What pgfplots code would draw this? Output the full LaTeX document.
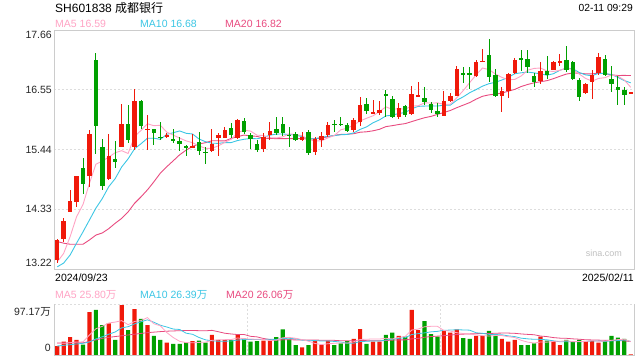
\documentclass[border=0pt]{standalone}
\usepackage{pgfplots}
\usepackage{pgfplotstable}
\pgfplotsset{compat=1.18}
\usepackage{fontspec}
\setmainfont{Liberation Sans}
\newfontfamily\cjk{Noto Sans CJK SC}
\definecolor{cred}{HTML}{F0190A}
\definecolor{cgreen}{HTML}{00A000}
\definecolor{cma5}{HTML}{FFA3C4}
\definecolor{cma10}{HTML}{3CC6E4}
\definecolor{cma20}{HTML}{E84A7F}
\definecolor{cframe}{HTML}{CCCCCC}
\definecolor{cgrid}{HTML}{DDDDDD}
\newcommand\fs{\fontsize{10.5}{12}\selectfont}
\pgfplotsset{candle/.style 2 args={draw=none, mark=none, mark size=0pt, mark options={draw=none,fill=none}, forget plot,
  error bars/.cd, y dir=both, y explicit, error mark=none,
  error bar style={draw=#1, line width=#2}}}

\pgfplotstableread{
i o h l c v
0 13.38 13.78 13.33 13.76 17.3
1 13.78 14.16 13.73 14.11 25.7
2 14.28 14.69 14.27 14.48 34.6
3 14.47 14.95 14.38 14.94 28.9
5 14.95 15.81 14.75 15.73 82.7
8 14.89 15.72 14.88 15.32 60.9
10 15.49 16.29 15.48 15.92 96.2
12 15.48 16.56 15.43 16.35 88.5
14 15.81 16.08 15.43 15.82 57.7
17 15.67 15.75 15.66 15.71 23.7
21 15.48 15.73 15.46 15.49 26.9
24 15.41 15.82 15.40 15.54 38.5
25 15.66 15.74 15.31 15.71 28.9
26 15.66 15.85 15.65 15.81 28.9
28 15.65 16.01 15.64 15.99 38.5
32 15.45 15.74 15.40 15.68 27.6
33 15.71 15.95 15.62 15.79 27.6
38 15.61 15.77 15.59 15.68 14.8
40 15.40 15.68 15.34 15.64 27.6
41 15.62 15.77 15.48 15.69 19.2
42 15.71 15.96 15.68 15.90 27.6
46 15.81 16.02 15.77 15.99 30.8
47 15.96 16.41 15.87 16.27 50.0
49 16.12 16.36 16.10 16.13 25.7
50 16.12 16.35 16.08 16.18 25.7
53 16.04 16.31 16.01 16.21 36.6
55 16.10 16.62 16.08 16.48 86.6
56 16.43 16.70 16.42 16.44 48.1
60 16.07 16.52 16.06 16.35 46.2
61 16.35 16.49 16.33 16.44 42.9
62 16.44 17.00 16.43 16.94 49.4
65 16.80 17.11 16.79 17.07 36.6
66 17.07 17.31 17.06 17.08 36.6
69 16.43 16.60 16.13 16.53 30.8
70 16.52 16.87 16.40 16.85 25.7
71 16.86 17.14 16.84 17.11 28.9
75 16.72 17.06 16.66 16.89 35.3
77 16.92 17.09 16.91 17.07 26.9
78 17.06 17.22 17.00 17.07 19.2
82 16.49 16.67 16.48 16.66 26.9
83 16.69 16.91 16.38 16.82 27.6
84 16.86 17.23 16.83 17.16 23.7
89 16.49 16.50 16.48 16.49 1.0
}\redtab

\pgfplotstableread{
i o h l c v
4 15.10 15.28 14.61 14.80 19.9
6 17.11 17.23 15.36 15.88 86.6
7 15.48 15.64 14.69 14.77 57.7
9 15.27 15.60 15.09 15.20 28.9
11 15.92 16.26 15.56 15.62 48.1
13 16.35 16.36 15.83 15.88 69.3
15 15.82 15.83 15.52 15.74 36.6
16 15.67 15.96 15.62 15.66 28.9
18 15.64 15.82 15.56 15.61 21.2
19 15.60 15.68 15.42 15.54 21.2
20 15.49 15.53 15.32 15.48 24.4
22 15.58 15.76 15.33 15.42 27.6
23 15.39 15.49 15.17 15.38 23.7
27 15.84 15.93 15.65 15.71 28.9
29 15.97 16.02 15.72 15.77 31.4
30 15.71 15.74 15.45 15.63 25.7
31 15.54 15.62 15.39 15.43 26.9
34 15.82 16.05 15.71 15.74 34.6
35 15.91 16.04 15.70 15.74 49.4
36 15.71 15.85 15.49 15.70 30.2
37 15.73 15.76 15.60 15.62 19.2
39 15.77 15.81 15.34 15.37 19.2
43 15.92 15.99 15.77 15.90 19.2
44 15.92 16.05 15.88 15.90 22.4
45 15.89 15.93 15.76 15.79 26.9
48 16.29 16.40 16.10 16.15 21.2
51 16.48 16.55 16.05 16.43 38.5
52 16.38 16.43 16.02 16.04 42.9
54 16.24 16.27 16.05 16.08 35.3
57 16.40 16.60 16.27 16.33 65.4
58 16.29 16.33 16.12 16.18 40.4
59 16.16 16.30 16.05 16.10 35.3
63 16.85 16.97 16.67 16.84 32.7
64 16.85 16.97 16.56 16.84 30.8
67 17.20 17.49 16.70 16.79 46.2
68 16.83 16.94 16.41 16.43 36.6
72 17.13 17.29 16.89 17.11 19.2
73 17.13 17.28 16.86 16.97 19.2
74 16.80 16.86 16.61 16.69 22.4
76 16.89 17.17 16.75 16.83 27.6
79 17.11 17.37 16.88 16.91 28.9
80 17.07 17.08 16.74 16.75 25.7
81 16.74 16.77 16.35 16.41 28.9
85 17.13 17.20 16.80 16.82 26.9
86 16.75 17.00 16.51 16.66 36.6
87 16.61 16.80 16.26 16.55 33.4
88 16.55 16.60 16.26 16.46 30.8
}\greentab

\pgfplotstableread{
i ma5 ma10 ma20 v5 v10 v20
0 13.35 13.26 13.73 22.5 17.3 23.0
1 13.51 13.33 13.70 22.5 18.6 23.0
2 13.82 13.48 13.68 23.7 19.9 23.5
3 14.19 13.70 13.68 25.0 21.2 23.5
4 14.418 13.91 13.68 25.28 22.5 23.5
5 14.812 14.13 13.76 38.36 25.0 26.0
6 15.166 14.35 13.85 50.54 31.0 29.0
7 15.224 14.53 13.89 55.16 35.0 32.0
8 15.300 14.75 13.97 61.56 40.0 34.0
9 15.380 14.899 14.07 63.36 44.32 35.5
10 15.418 15.115 14.16 66.06 52.21 37.0
11 15.366 15.266 14.28 58.36 54.45 38.5
12 15.682 15.453 14.44 64.52 59.84 40.0
13 15.794 15.547 14.56 66.20 63.88 41.5
14 15.918 15.649 14.69 71.96 67.66 43.0
15 15.882 15.650 14.84 60.04 63.05 44.0
16 15.890 15.628 15.00 56.20 57.28 45.0
17 15.762 15.722 15.12 43.24 53.88 45.8
18 15.708 15.751 15.23 33.62 49.91 46.3
19 15.652 15.785 15.342 26.32 49.14 46.73
20 15.600 15.741 15.428 23.88 41.96 47.09
21 15.566 15.728 15.497 23.48 39.84 47.15
22 15.508 15.635 15.544 24.26 33.75 46.80
23 15.462 15.585 15.566 24.76 29.19 46.54
24 15.462 15.557 15.603 28.22 27.27 47.47
25 15.508 15.554 15.602 29.12 26.50 44.78
26 15.572 15.569 15.599 29.52 26.50 41.89
27 15.630 15.569 15.646 29.78 27.02 40.45
28 15.752 15.607 15.679 32.74 28.75 39.33
29 15.798 15.630 15.708 31.32 29.77 39.46
30 15.782 15.645 15.693 30.68 29.90 35.93
31 15.706 15.639 15.684 30.28 29.90 34.87
32 15.700 15.665 15.650 30.02 29.90 31.83
33 15.660 15.706 15.646 27.84 30.29 29.74
34 15.654 15.726 15.642 28.48 29.90 28.59
35 15.676 15.729 15.642 33.22 31.95 29.23
36 15.730 15.718 15.644 33.88 32.08 29.29
37 15.718 15.709 15.639 32.20 31.11 29.07
38 15.696 15.678 15.643 29.64 28.74 28.75
39 15.622 15.638 15.634 26.56 27.52 28.65
40 15.602 15.639 15.642 22.20 27.71 28.81
41 15.600 15.665 15.652 20.00 26.94 28.42
42 15.656 15.687 15.676 21.68 26.94 28.42
43 15.700 15.698 15.702 22.56 26.10 28.20
44 15.806 15.714 15.720 23.20 24.88 27.39
45 15.836 15.719 15.724 23.06 22.63 27.29
46 15.896 15.748 15.733 25.38 22.69 27.39
47 15.970 15.813 15.761 29.86 25.77 28.44
48 16.020 15.860 15.769 30.26 26.41 27.58
49 16.066 15.936 15.787 30.92 27.06 27.29
50 16.144 15.990 15.815 30.68 26.87 27.29
51 16.232 16.064 15.865 32.22 28.80 27.87
52 16.186 16.078 15.883 30.80 30.33 28.64
53 16.198 16.109 15.904 33.88 32.07 29.09
54 16.188 16.127 15.921 35.80 33.36 29.12
55 16.248 16.196 15.958 47.98 39.33 30.98
56 16.250 16.241 15.995 49.90 41.06 31.88
57 16.308 16.247 16.030 54.40 42.60 34.19
58 16.302 16.250 16.055 55.16 44.52 35.47
59 16.306 16.247 16.092 55.16 45.48 36.27
60 16.280 16.264 16.127 47.08 47.53 37.20
61 16.280 16.265 16.165 46.04 47.97 38.39
62 16.402 16.355 16.217 42.84 48.62 39.48
63 16.534 16.418 16.264 41.30 48.23 40.15
64 16.682 16.494 16.311 40.40 47.78 40.57
65 16.826 16.553 16.375 38.48 42.78 41.06
66 16.954 16.617 16.429 37.22 41.63 41.35
67 16.924 16.663 16.455 36.58 39.71 41.16
68 16.842 16.688 16.469 37.36 39.33 41.93
69 16.780 16.731 16.489 37.36 38.88 42.18
70 16.736 16.781 16.523 35.18 36.83 42.18
71 16.742 16.848 16.557 33.64 35.43 41.70
72 16.806 16.865 16.610 28.24 32.41 40.52
73 16.914 16.878 16.648 24.76 31.06 39.65
74 16.946 16.863 16.679 23.08 30.22 39.00
75 16.954 16.845 16.699 25.00 30.09 36.44
76 16.898 16.820 16.719 24.74 29.19 35.41
77 16.890 16.848 16.756 26.28 27.26 33.49
78 16.910 16.912 16.800 26.28 25.52 32.43
79 16.954 16.950 16.841 27.58 25.33 32.11
80 16.926 16.940 16.861 25.66 25.33 31.08
81 16.842 16.870 16.859 25.92 25.33 30.38
82 16.760 16.825 16.845 25.92 26.10 29.26
83 16.710 16.810 16.844 27.60 26.94 29.00
84 16.760 16.857 16.860 26.56 27.07 28.65
85 16.774 16.850 16.848 26.80 26.23 28.16
86 16.824 16.833 16.827 28.34 27.13 28.16
87 16.802 16.781 16.815 29.64 27.78 27.52
88 16.730 16.720 16.816 30.28 28.94 27.23
89 16.596 16.678 16.814 25.74 26.15 25.74
}\matab

\begin{document}
\begin{tikzpicture}
\path (0pt,0pt) rectangle (640pt,-360pt);

% ---------- price panel ----------
\begin{axis}[
  at={(54pt,-30pt)}, anchor=north west,
  width=580pt, height=239pt, scale only axis,
  xmin=-0.5, xmax=89.5, ymin=13.22, ymax=17.66,
  axis line style={draw=cframe, line width=0.8pt},
  xtick=\empty,
  ytick={14.33,15.44,16.55}, yticklabels={14.33,15.44,16.55},
  major tick length=0pt,
  ymajorgrids,
  grid style={draw=cgrid, line width=1pt, dash pattern=on 2pt off 2pt},
  yticklabel style={font=\fs, inner sep=0pt, xshift=-2pt, text=black!85},
]
% MA lines
\addplot[cma20, line width=0.9pt, mark=none] table[x=i, y=ma20] {\matab};
\addplot[cma10, line width=0.9pt, mark=none] table[x=i, y=ma10] {\matab};
\addplot[cma5, line width=0.9pt, mark=none] table[x=i, y=ma5] {\matab};
% wicks
\addplot[candle={cred}{0.9pt}]
  table[x=i, y expr={(\thisrow{h}+\thisrow{l})/2}, y error expr={(\thisrow{h}-\thisrow{l})/2}] {\redtab};
\addplot[candle={cgreen}{0.9pt}]
  table[x=i, y expr={(\thisrow{h}+\thisrow{l})/2}, y error expr={(\thisrow{h}-\thisrow{l})/2}] {\greentab};
% bodies
\addplot[candle={cred}{4.4pt}]
  table[x=i, y expr={(\thisrow{o}+\thisrow{c})/2}, y error expr={max(abs(\thisrow{o}-\thisrow{c})/2,0.012)}] {\redtab};
\addplot[candle={cgreen}{4.4pt}]
  table[x=i, y expr={(\thisrow{o}+\thisrow{c})/2}, y error expr={max(abs(\thisrow{o}-\thisrow{c})/2,0.012)}] {\greentab};
\end{axis}

% ---------- volume panel ----------
\begin{axis}[
  at={(54pt,-304.5pt)}, anchor=north west,
  width=580pt, height=50.5pt, scale only axis,
  xmin=-0.5, xmax=89.5, ymin=0, ymax=97.17,
  axis line style={draw=none},
  xtick={29.5,59.5}, xticklabels={,}, ytick=\empty,
  major tick length=0pt,
  xmajorgrids,
  grid style={draw=cgrid, line width=1pt, dash pattern=on 2pt off 2pt},
  clip=false,
]
\draw[cgrid, line width=1pt, dash pattern=on 2pt off 2pt] (rel axis cs:0,1) -- (rel axis cs:1,1);
\draw[cframe, line width=0.8pt] (rel axis cs:0,1) -- (rel axis cs:0,0) -- (rel axis cs:1,0) -- (rel axis cs:1,1);
\addplot[ybar, bar width=4.2pt, bar shift=0pt, fill=cred, draw=none] table[x=i, y=v] {\redtab};
\addplot[ybar, bar width=4.2pt, bar shift=0pt, fill=cgreen, draw=none] table[x=i, y=v] {\greentab};
\addplot[cma20, line width=0.8pt, mark=none] table[x=i, y=v20] {\matab};
\addplot[cma10, line width=0.8pt, mark=none] table[x=i, y=v10] {\matab};
\addplot[cma5, line width=0.8pt, mark=none] table[x=i, y=v5] {\matab};
\end{axis}

% ---------- texts ----------
\node[anchor=west, inner sep=0pt, font=\fontsize{12}{14}\selectfont] at (55pt,-8pt) {SH601838 {\cjk 成都银行}};
\node[anchor=east, inner sep=0pt, font=\fontsize{10.3}{12}\selectfont] at (633pt,-8pt) {02-11 09:29};
\node[anchor=west, inner sep=0pt, font=\fs, text=cma5] at (55pt,-24pt) {MA5 16.59};
\node[anchor=west, inner sep=0pt, font=\fs, text=cma10] at (140pt,-24pt) {MA10 16.68};
\node[anchor=west, inner sep=0pt, font=\fs, text=cma20] at (225pt,-24pt) {MA20 16.82};
\node[anchor=east, inner sep=0pt, font=\fs, text=black!85] at (52pt,-35pt) {17.66};
\node[anchor=east, inner sep=0pt, font=\fs, text=black!85] at (52pt,-263pt) {13.22};
\node[anchor=east, inner sep=0pt, font=\fontsize{9}{10}\selectfont, text=black!25] at (622pt,-253pt) {sina.com};
\node[anchor=west, inner sep=0pt, font=\fs] at (55pt,-278pt) {2024/09/23};
\node[anchor=east, inner sep=0pt, font=\fs] at (634pt,-278pt) {2025/02/11};
\node[anchor=west, inner sep=0pt, font=\fs, text=cma5] at (55pt,-295pt) {MA5 25.80{\cjk 万}};
\node[anchor=west, inner sep=0pt, font=\fs, text=cma10] at (140pt,-295pt) {MA10 26.39{\cjk 万}};
\node[anchor=west, inner sep=0pt, font=\fs, text=cma20] at (226pt,-295pt) {MA20 26.06{\cjk 万}};
\node[anchor=east, inner sep=0pt, font=\fs, text=black!85] at (51pt,-312pt) {97.17{\cjk 万}};
\node[anchor=east, inner sep=0pt, font=\fs, text=black!85] at (51pt,-348pt) {0};
\end{tikzpicture}
\end{document}
